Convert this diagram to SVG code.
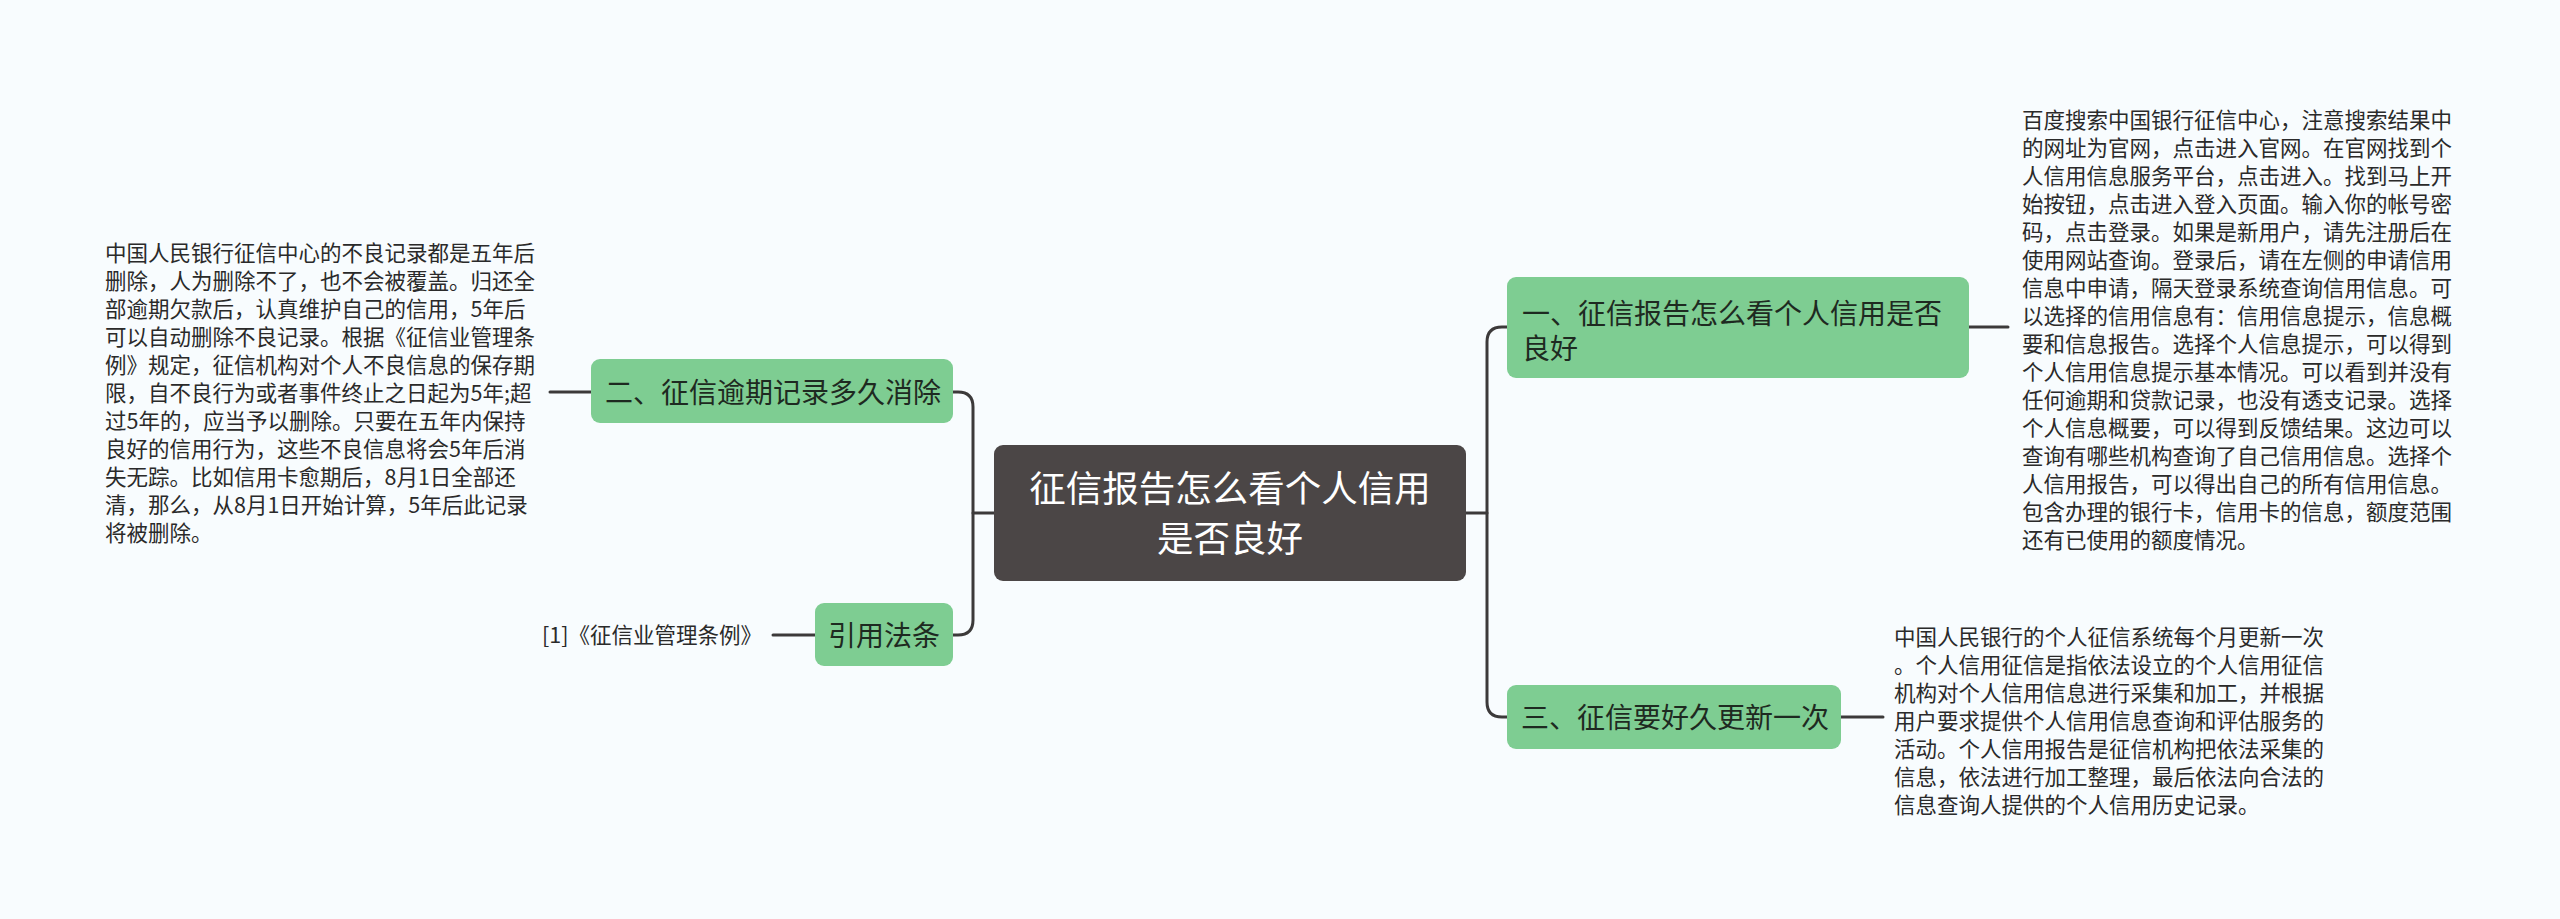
<svg xmlns="http://www.w3.org/2000/svg" width="2560" height="919" viewBox="0 0 2560 919">
<style>
.bg{fill:#f8fcfe}
.conn{fill:none;stroke:#3c3a3a;stroke-width:3;stroke-linecap:round}
.green{fill:#7ecd92}
.root{fill:#4b4646}
text{font-family:"Noto Sans CJK SC","Noto Sans",sans-serif}
.t28{font-size:28px;fill:#1e2a21}
.t36{font-size:36.5px;fill:#ffffff}
.small{font-size:21.5px;fill:#2a2a2a}
</style>
<rect class="bg" x="0" y="0" width="2560" height="919"/>
<g id="connectors">
<path class="conn" d="M994 513 H973"/>
<path class="conn" d="M953 392 H958 Q973 392 973 407 V620 Q973 635 958 635 H953"/>
<path class="conn" d="M591 392 H550"/>
<path class="conn" d="M815 635 H773"/>
<path class="conn" d="M1466 513 H1487"/>
<path class="conn" d="M1507 327 H1502 Q1487 327 1487 342 V702 Q1487 717 1502 717 H1507"/>
<path class="conn" d="M1969 327 H2008"/>
<path class="conn" d="M1841 717 H1883"/>
</g>
<g id="root">
<rect class="root" x="994" y="445" width="472" height="136" rx="9"/>
<text class="t36" text-anchor="middle"><tspan x="1230" y="502">征信报告怎么看个人信用</tspan><tspan x="1230" y="552">是否良好</tspan></text>
</g>
<g id="node-1">
<rect class="green" x="1507" y="277" width="462" height="101" rx="9"/>
<text class="t28"><tspan x="1522" y="324">一、征信报告怎么看个人信用是否</tspan><tspan x="1522" y="359">良好</tspan></text>
</g>
<g id="node-1-text">
<text class="small">
<tspan x="2022" y="128">百度搜索中国银行征信中心，注意搜索结果中</tspan>
<tspan x="2022" y="156">的网址为官网，点击进入官网。在官网找到个</tspan>
<tspan x="2022" y="184">人信用信息服务平台，点击进入。找到马上开</tspan>
<tspan x="2022" y="212">始按钮，点击进入登入页面。输入你的帐号密</tspan>
<tspan x="2022" y="240">码，点击登录。如果是新用户，请先注册后在</tspan>
<tspan x="2022" y="268">使用网站查询。登录后，请在左侧的申请信用</tspan>
<tspan x="2022" y="296">信息中申请，隔天登录系统查询信用信息。可</tspan>
<tspan x="2022" y="324">以选择的信用信息有：信用信息提示，信息概</tspan>
<tspan x="2022" y="352">要和信息报告。选择个人信息提示，可以得到</tspan>
<tspan x="2022" y="380">个人信用信息提示基本情况。可以看到并没有</tspan>
<tspan x="2022" y="408">任何逾期和贷款记录，也没有透支记录。选择</tspan>
<tspan x="2022" y="436">个人信息概要，可以得到反馈结果。这边可以</tspan>
<tspan x="2022" y="464">查询有哪些机构查询了自己信用信息。选择个</tspan>
<tspan x="2022" y="492">人信用报告，可以得出自己的所有信用信息。</tspan>
<tspan x="2022" y="520">包含办理的银行卡，信用卡的信息，额度范围</tspan>
<tspan x="2022" y="548">还有已使用的额度情况。</tspan>
</text>
</g>
<g id="node-3">
<rect class="green" x="1507" y="685" width="334" height="64" rx="9"/>
<text class="t28" x="1521" y="728">三、征信要好久更新一次</text>
</g>
<g id="node-3-text">
<text class="small">
<tspan x="1894" y="645">中国人民银行的个人征信系统每个月更新一次</tspan>
<tspan x="1894" y="673">。个人信用征信是指依法设立的个人信用征信</tspan>
<tspan x="1894" y="701">机构对个人信用信息进行采集和加工，并根据</tspan>
<tspan x="1894" y="729">用户要求提供个人信用信息查询和评估服务的</tspan>
<tspan x="1894" y="757">活动。个人信用报告是征信机构把依法采集的</tspan>
<tspan x="1894" y="785">信息，依法进行加工整理，最后依法向合法的</tspan>
<tspan x="1894" y="813">信息查询人提供的个人信用历史记录。</tspan>
</text>
</g>
<g id="node-2">
<rect class="green" x="591" y="359" width="362" height="64" rx="9"/>
<text class="t28" x="605" y="403">二、征信逾期记录多久消除</text>
</g>
<g id="node-2-text">
<text class="small">
<tspan x="105" y="261">中国人民银行征信中心的不良记录都是五年后</tspan>
<tspan x="105" y="289">删除，人为删除不了，也不会被覆盖。归还全</tspan>
<tspan x="105" y="317">部逾期欠款后，认真维护自己的信用，5年后</tspan>
<tspan x="105" y="345">可以自动删除不良记录。根据《征信业管理条</tspan>
<tspan x="105" y="373">例》规定，征信机构对个人不良信息的保存期</tspan>
<tspan x="105" y="401">限，自不良行为或者事件终止之日起为5年;超</tspan>
<tspan x="105" y="429">过5年的，应当予以删除。只要在五年内保持</tspan>
<tspan x="105" y="457">良好的信用行为，这些不良信息将会5年后消</tspan>
<tspan x="105" y="485">失无踪。比如信用卡愈期后，8月1日全部还</tspan>
<tspan x="105" y="513">清，那么，从8月1日开始计算，5年后此记录</tspan>
<tspan x="105" y="541">将被删除。</tspan>
</text>
</g>
<g id="node-law">
<rect class="green" x="815" y="603" width="138" height="63" rx="9"/>
<text class="t28" x="828" y="646">引用法条</text>
</g>
<g id="node-law-text">
<text class="small" x="542" y="643">[1]《征信业管理条例》</text>
</g>
</svg>
